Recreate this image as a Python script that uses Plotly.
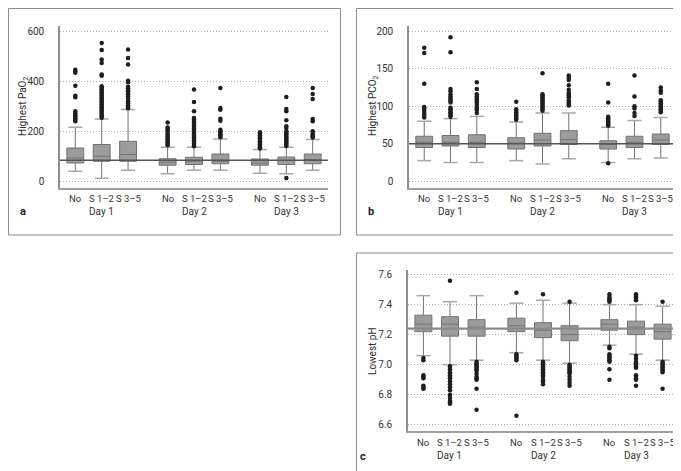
import plotly.graph_objects as go

# ---------------- data ----------------
days = ["Day 1", "Day 2", "Day 3"]
groups = ["No", "S 1–2", "S 3–5"]

# box stats per box: [lower whisker, q1, median, q3, upper whisker]  (Day1 No..S3-5, Day2..., Day3...)
pao2_stats = [
    [40, 73, 93, 133, 216], [12, 80, 100, 147, 249], [44, 80, 107, 160, 287],
    [30, 64, 76, 90, 136], [44, 67, 80, 96, 136], [44, 70, 80, 109, 169],
    [32, 64, 73, 89, 127], [30, 67, 83, 97, 136], [44, 70, 87, 109, 167],
]
pao2_out = [
    [446, 440, 434, 382, 342, 336, 280, 272, 264, 258, 252, 246, 240],
    [553, 525, 487, 473, 427, 422, 380, 374, 368, 362, 356, 350, 344, 338, 332, 326, 320, 314,
     308, 302, 296, 290, 284, 278, 272, 266, 260, 254],
    [527, 493, 467, 402, 396, 378, 372, 366, 360, 354, 348, 340, 330, 320, 312, 304, 298, 292],
    [235, 215, 208, 201, 194, 187, 180, 174, 168, 162, 156, 150, 144],
    [367, 317, 280, 253, 247, 241, 235, 229, 223, 217, 211, 205, 199, 193, 187, 181, 175, 169,
     163, 157, 151, 145, 140],
    [373, 293, 286, 250, 242, 206, 200, 194, 188, 182, 176],
    [196, 190, 184, 178, 172, 166, 160, 154, 148, 142, 136, 131],
    [337, 289, 280, 244, 220, 213, 200, 194, 188, 182, 176, 170, 164, 158, 152, 146, 141, 13],
    [373, 349, 329, 249, 240, 200, 190, 185, 180, 175],
]
pao2_ref = 84

pco2_stats = [
    [27.5, 45, 52, 60, 80], [25, 47, 52, 61, 83.5], [25, 45, 52, 62, 86.5],
    [27.5, 43, 51, 58, 79], [23, 47, 55, 64, 91], [30, 49, 55.5, 67.5, 91],
    [25, 43, 49, 54, 72], [30, 45, 52, 60, 81], [31, 49, 55, 63, 85],
]
pco2_out = [
    [178, 171, 130, 99, 97, 94, 91, 88, 85],
    [192, 172, 123, 120, 116, 113, 111, 109, 107, 105, 98, 96, 94, 92, 90, 88, 86],
    [132, 123, 116, 113, 111, 109, 107, 105, 102, 99, 97, 95, 91],
    [106, 96, 94, 92, 90, 88, 86, 84, 82],
    [144, 116, 114, 112, 110, 108, 106, 104, 102, 100, 98, 96, 94],
    [141, 138, 135, 128, 122, 118, 116, 114, 112, 108, 105, 103, 101],
    [130, 105, 86, 84, 82, 80, 78, 76, 74, 24],
    [141, 113, 100, 97, 91, 87],
    [125, 121, 118, 108, 106, 104, 102, 100, 98, 96, 94, 92],
]
pco2_ref = 50

ph_stats = [
    [7.06, 7.22, 7.27, 7.33, 7.46], [7.00, 7.19, 7.27, 7.32, 7.42], [7.03, 7.19, 7.25, 7.30, 7.46],
    [7.08, 7.22, 7.26, 7.31, 7.41], [7.03, 7.18, 7.23, 7.28, 7.43], [7.01, 7.16, 7.20, 7.26, 7.41],
    [7.13, 7.23, 7.27, 7.30, 7.40], [7.07, 7.20, 7.25, 7.29, 7.40], [7.03, 7.17, 7.22, 7.27, 7.39],
]
ph_out = [
    [7.045, 7.03, 6.93, 6.92, 6.91, 6.86, 6.85, 6.84],
    [7.56, 6.99, 6.97, 6.95, 6.94, 6.93, 6.92, 6.91, 6.89, 6.87, 6.85, 6.83, 6.80, 6.78, 6.76, 6.75, 6.74],
    [7.02, 7.01, 7.00, 6.99, 6.98, 6.97, 6.96, 6.94, 6.92, 6.91, 6.90, 6.84, 6.70],
    [7.48, 7.07, 7.06, 7.05, 7.04, 7.03, 6.66],
    [7.47, 7.02, 7.01, 7.00, 6.99, 6.98, 6.97, 6.96, 6.95, 6.94, 6.93, 6.92, 6.90, 6.89, 6.87],
    [7.42, 7.00, 6.99, 6.98, 6.97, 6.96, 6.95, 6.94, 6.92, 6.90, 6.88, 6.86],
    [7.47, 7.45, 7.44, 7.43, 7.42, 7.12, 7.11, 7.07, 7.06, 7.05, 7.04, 7.03, 7.02, 6.97, 6.90],
    [7.47, 7.46, 7.45, 7.44, 7.43, 7.06, 7.04, 7.02, 7.01, 7.00, 6.99, 6.98, 6.93, 6.92, 6.91, 6.90, 6.86],
    [7.42, 7.02, 7.01, 7.00, 6.99, 6.98, 6.97, 6.96, 6.95, 6.84],
]
ph_ref = 7.24

# ---------------- layout helpers ----------------
W, H = 681, 471
FONT = "Roboto"
TXT = "#333333"

def px_x(p):
    return p / W

def px_y(p):
    return 1 - p / H

positions = [d * 3.5 + g for d in range(len(days)) for g in range(len(groups))]
ticktext = groups * len(days)

fig = go.Figure()

panels = [
    (pao2_stats, pao2_out, pao2_ref, "", (52, 320), (18, 180), [-27, 621], [0, 200, 400, 600],
     "Highest PaO<sub>2</sub>", "#555555", 1.5, (16, 99), "a", (15, 203), 203, 190),
    (pco2_stats, pco2_out, pco2_ref, "2", (401, 668), (18, 180), [-9, 207], [0, 50, 100, 150, 200],
     "Highest PCO<sub>2</sub>", "#555555", 1.5, (366, 97), "b", (363, 203), 203, 190),
    (ph_stats, ph_out, ph_ref, "3", (400, 670), (262, 423), [6.558, 7.631],
     [6.6, 6.8, 7.0, 7.2, 7.4, 7.6], "Lowest pH", "#8a8a8a", 2.2, (364, 343), "c", (355, 448), 447, 434),
]

annotations = []
shapes = []

for (stats, outs, ref, sfx, xd, yd, yr, tv, ytitle, refc, refw, tpos, lab, lpos, dayy, caty) in panels:
    xa = "x" + sfx
    ya = "y" + sfx
    fig.add_trace(go.Box(
        x=positions,
        lowerfence=[s[0] for s in stats],
        q1=[s[1] for s in stats],
        median=[s[2] for s in stats],
        q3=[s[3] for s in stats],
        upperfence=[s[4] for s in stats],
        width=0.64,
        fillcolor="#9c9c9c",
        line=dict(color="#737373", width=1),
        whiskerwidth=0,
        boxpoints=False,
        xaxis=xa, yaxis=ya, showlegend=False, hoverinfo="skip",
    ))
    # whisker caps
    fig.add_trace(go.Scatter(
        x=positions + positions,
        y=[s[0] for s in stats] + [s[4] for s in stats],
        mode="markers",
        marker=dict(symbol="line-ew", size=10, line=dict(color="#a8a8a8", width=1.5)),
        xaxis=xa, yaxis=ya, showlegend=False, hoverinfo="skip",
    ))
    # outliers
    ox, oy = [], []
    for p, vals in zip(positions, outs):
        ox += [p] * len(vals)
        oy += vals
    fig.add_trace(go.Scatter(
        x=ox, y=oy, mode="markers",
        marker=dict(size=4.5, color="#1e1e1e"),
        xaxis=xa, yaxis=ya, showlegend=False, hoverinfo="skip",
    ))
    # reference line
    shapes.append(dict(type="line", xref=xa + " domain", x0=0, x1=1, yref=ya, y0=ref, y1=ref,
                       line=dict(color=refc, width=refw), layer="above"))

    axis_x = dict(
        domain=[px_x(xd[0]), px_x(xd[1])], range=[-0.58, 9.58], anchor=ya,
        showticklabels=False, showgrid=False, zeroline=False,
        showline=True, linecolor="#a0a0a0", linewidth=1.5, ticks="",
    )
    axis_y = dict(
        domain=[px_y(yd[1]), px_y(yd[0])], range=yr, anchor=xa,
        tickvals=tv, showgrid=True, gridcolor="#b0b0b0", griddash="1px,2px", gridwidth=1,
        zeroline=False, showline=True, linecolor="#909090", linewidth=1.5, ticks="",
        ticklabelstandoff=12, tickfont=dict(family=FONT, size=10, color=TXT),
    )
    if sfx == "3":
        axis_y["tickformat"] = ".1f"
    fig.update_layout(**{"xaxis" + sfx: axis_x, "yaxis" + sfx: axis_y})

    # category labels (placed at box positions along the x axis)
    for p, t in zip(positions, ticktext):
        annotations.append(dict(text=t, x=p, xref=xa, y=px_y(caty), yref="paper",
                                showarrow=False, xanchor="center", yanchor="middle",
                                font=dict(family=FONT, size=9.5, color=TXT)))
    # day labels
    for d, day in enumerate(days):
        annotations.append(dict(text=day, x=d * 3.5 + 1, xref=xa, y=px_y(dayy), yref="paper",
                                showarrow=False, xanchor="center", yanchor="middle",
                                font=dict(family=FONT, size=10, color=TXT)))
    # y title
    annotations.append(dict(text=ytitle, x=px_x(tpos[0]), y=px_y(tpos[1]), xref="paper", yref="paper",
                            textangle=-90, showarrow=False, xanchor="center", yanchor="middle",
                            font=dict(family=FONT, size=10, color=TXT)))
    # panel letter
    annotations.append(dict(text="<b>" + lab + "</b>", x=px_x(lpos[0]), y=px_y(lpos[1]),
                            xref="paper", yref="paper", showarrow=False,
                            xanchor="center", yanchor="middle",
                            font=dict(family=FONT, size=11, color="#222222")))

# panel frames
for (x0, x1, y0, y1) in [(0.5, 332.5, 0.5, 227), (348.5, 680.5, 0.5, 227), (348.5, 680.5, 245, 470.5)]:
    shapes.append(dict(type="rect", xref="paper", yref="paper",
                       x0=px_x(x0), x1=px_x(x1), y0=px_y(y1), y1=px_y(y0),
                       line=dict(color="#8c8c8c", width=1), layer="below"))

fig.update_layout(
    width=W, height=H,
    margin=dict(l=0, r=0, t=0, b=0),
    paper_bgcolor="white", plot_bgcolor="white",
    showlegend=False,
    annotations=annotations,
    shapes=shapes,
    font=dict(family=FONT, size=10, color=TXT),
)

fig.write_html("out.html")
